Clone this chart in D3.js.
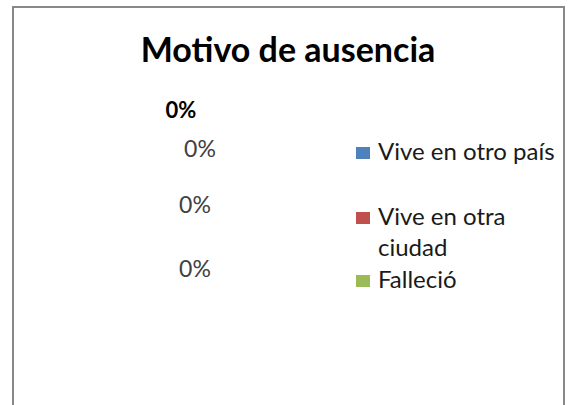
<!DOCTYPE html>
<html>
<head>
<meta charset="utf-8">
<script src="https://cdn.jsdelivr.net/npm/d3@7"></script>
<style>
  body { margin: 0; background: #fff; }
  text { font-family: Lato, "Open Sans", sans-serif; }
</style>
</head>
<body>
<svg id="chart"></svg>
<script>
// chart data
const title = "Motivo de ausencia";
const categories = ["Vive en otro país", "Vive en otra ciudad", "Falleció"];
const values = [0, 0, 0];
const colors = ["#4F81BD", "#C0504D", "#9BBB59"];

const width = 569, height = 405;

const svg = d3.select("#chart")
    .attr("width", width)
    .attr("height", height);

// chart frame (bottom edge runs off the picture)
svg.append("path")
    .attr("d", `M13,${height + 5} V7 H564 V${height + 5}`)
    .attr("fill", "none")
    .attr("stroke", "#888")
    .attr("stroke-width", 2);

svg.append("text")
    .attr("x", 288)
    .attr("y", 62)
    .attr("text-anchor", "middle")
    .style("font-size", "34px")
    .style("font-weight", "bold")
    .style("fill", "#000")
    .text(title);

// pie with all zero values -> empty slices, only labels are left
const total = d3.sum(values);
const pct = d => total > 0 ? d3.format(".0%")(d / total) : "0%";
const pie = d3.pie().sort(null)(values);
const arc = d3.arc().innerRadius(0).outerRadius(60);

const pieG = svg.append("g").attr("transform", "translate(195,215)");
pieG.selectAll("path.slice")
    .data(pie)
    .join("path")
    .attr("class", "slice")
    .attr("d", arc)
    .attr("fill", (d, i) => colors[i]);

// label stack Excel uses for zero-size slices
const labelX = d3.scaleOrdinal().domain(categories).range([200, 195, 195]);
const labelY = d3.scaleOrdinal().domain(categories).range([157, 213, 277]);

svg.append("text")
    .attr("x", 181)
    .attr("y", 118)
    .attr("text-anchor", "middle")
    .style("font-size", "22px")
    .style("font-weight", "bold")
    .style("fill", "#000")
    .text(pct(total));

svg.selectAll("text.lbl")
    .data(pie)
    .join("text")
    .attr("class", "lbl")
    .attr("x", (d, i) => labelX(categories[i]))
    .attr("y", (d, i) => labelY(categories[i]))
    .attr("text-anchor", "middle")
    .style("font-size", "23px")
    .style("fill", "#404040")
    .text(d => pct(d.value));

// legend
const legendY = d3.scaleOrdinal().domain(categories).range([160, 225, 288]);
const legend = svg.selectAll("g.legend")
    .data(categories)
    .join("g")
    .attr("class", "legend")
    .attr("transform", d => `translate(356,${legendY(d)})`);

legend.append("rect")
    .attr("y", -13)
    .attr("width", 14)
    .attr("height", 12)
    .attr("fill", (d, i) => colors[i]);

legend.append("text")
    .attr("x", 22)
    .style("font-size", "24px")
    .style("fill", "#1a1a1a")
    .each(function(d) {
      // wrap long names like Excel does
      const t = d3.select(this);
      const words = d.split(" ");
      let line = [], tspan = t.append("tspan").attr("x", 22).attr("dy", 0);
      words.forEach(w => {
        line.push(w);
        tspan.text(line.join(" "));
        if (tspan.node().getComputedTextLength() > 185 && line.length > 1) {
          line.pop();
          tspan.text(line.join(" "));
          line = [w];
          tspan = t.append("tspan").attr("x", 22).attr("dy", 31).text(w);
        }
      });
    });
</script>
</body>
</html>
